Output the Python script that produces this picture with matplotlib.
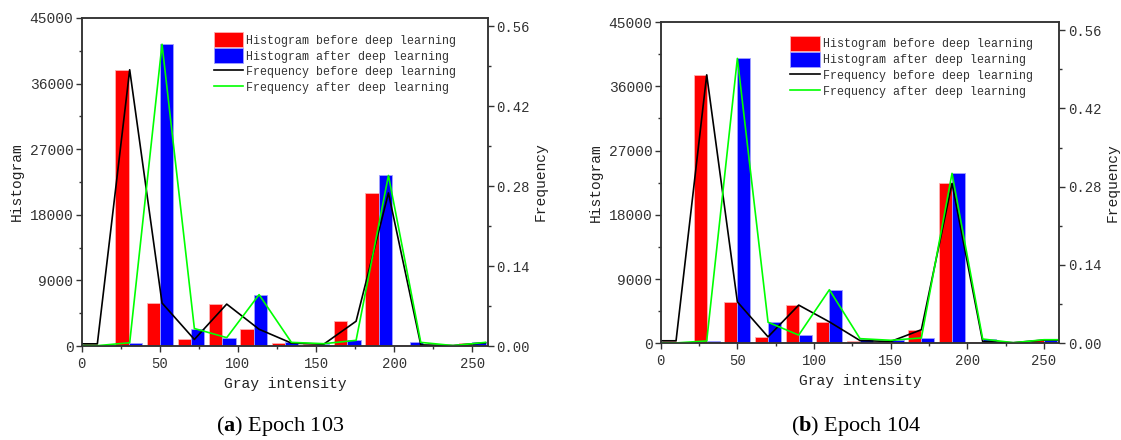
import numpy as np
import matplotlib
matplotlib.use('Agg')
import matplotlib.pyplot as plt
from matplotlib.ticker import MultipleLocator, FormatStrFormatter

plt.rcParams['font.family'] = ['Liberation Mono', 'DejaVu Sans']
plt.rcParams['mathtext.fontset'] = 'custom'
plt.rcParams['mathtext.bf'] = 'Liberation Serif:bold'
plt.rcParams['mathtext.rm'] = 'Liberation Serif'

# gray level bins (bar group centres)
bins = [10, 30, 50, 70, 90, 110, 130, 150, 170, 190, 210, 230, 250]
n_pixels = 78336

# epoch 103
hist_before_a = [300, 37900, 5900, 900, 5750, 2300, 400, 250, 3400, 21000, 150, 60, 450]
hist_after_a = [50, 450, 41400, 2400, 1150, 7050, 500, 320, 780, 23400, 500, 60, 500]
freq_x_a = [0, 10, 30.7, 51.4, 72.1, 92.8, 113.5, 134.2, 154.9, 175.6, 196.3, 217.0, 237.7, 258.4]

# epoch 104
hist_before_b = [350, 37600, 5800, 900, 5350, 3000, 380, 250, 1900, 22400, 250, 80, 450]
hist_after_b = [50, 330, 39900, 2950, 1150, 7500, 650, 420, 750, 23800, 600, 80, 500]
freq_x_b = [0, 10, 30, 50, 70, 90, 110, 130, 150, 170, 190, 210, 230, 250, 259]

bar_w = 8.5
spine_c = '#333333'


def draw_panel(rect, h_before, h_after, fx, caption, cap_xy):
    ax = fig.add_axes(rect)
    x = np.array(bins, dtype=float)
    ax.bar(x - bar_w / 2, h_before, width=bar_w, color='#ff0000',
           edgecolor='#ffb0b0', linewidth=0.6, label='Histogram before deep learning')
    ax.bar(x + bar_w / 2, h_after, width=bar_w, color='#0000ff',
           edgecolor='#a0a0ff', linewidth=0.6, label='Histogram after deep learning')
    ax.set_xlim(0, 260)
    ax.set_ylim(0, 45000)
    ax.xaxis.set_major_locator(MultipleLocator(50))
    ax.xaxis.set_minor_locator(MultipleLocator(25))
    ax.yaxis.set_major_locator(MultipleLocator(9000))
    ax.yaxis.set_minor_locator(MultipleLocator(4500))
    ax.set_xlabel('Gray intensity', fontsize=10.5, labelpad=4, color='#222222')
    ax.set_ylabel('Histogram', fontsize=10.5, labelpad=4, color='#222222')

    # frequency = count / number of pixels, padded at both ends
    n_extra = len(fx) - len(h_before)
    fb = [h_before[0]] + list(h_before) + [h_before[-1]] * (n_extra - 1)
    fa = [h_after[0]] + list(h_after) + [h_after[-1]] * (n_extra - 1)
    fb = np.array(fb) / n_pixels
    fa = np.array(fa) / n_pixels

    ax2 = ax.twinx()
    ax2.plot(fx, fb, color='black', lw=1.2, label='Frequency before deep learning')
    ax2.plot(fx, fa, color='#00ff00', lw=1.2, label='Frequency after deep learning')
    ax2.set_ylim(0, 45000 / n_pixels)
    ax2.yaxis.set_major_locator(MultipleLocator(0.14))
    ax2.yaxis.set_minor_locator(MultipleLocator(0.07))
    ax2.yaxis.set_major_formatter(FormatStrFormatter('%.2f'))
    ax2.set_ylabel('Frequency', fontsize=10.5, labelpad=3, color='#222222')

    for a in (ax, ax2):
        for s in a.spines.values():
            s.set_color(spine_c)
            s.set_linewidth(1.1)
        a.tick_params(which='major', direction='out', length=4, width=1,
                      color=spine_c, labelsize=10, labelcolor='#333333', pad=2)
        a.tick_params(which='minor', direction='out', length=2.5, width=1, color=spine_c)
    ax.tick_params(axis='x', pad=4)
    ax.tick_params(axis='y', labelsize=10.5)

    h1, l1 = ax.get_legend_handles_labels()
    h2, l2 = ax2.get_legend_handles_labels()
    ax2.legend(h1 + h2, l1 + l2, loc='upper left', bbox_to_anchor=(0.305, 0.982),
               frameon=False, fontsize=8.4, handlelength=2.5, handleheight=1.65,
               labelspacing=0.05, handletextpad=0.3, borderpad=0.2,
               labelcolor='#333333')

    fig.text(cap_xy[0], cap_xy[1], caption, ha='center', va='center',
             fontsize=16, family='Liberation Serif')


fig = plt.figure(figsize=(11.21, 4.40), dpi=100)
draw_panel([0.0729, 0.2136, 0.3624, 0.7455], hist_before_a, hist_after_a, freq_x_a,
           r'($\mathbf{a}$) Epoch 103', (0.250, 0.032))
draw_panel([0.5894, 0.2198, 0.3556, 0.7302], hist_before_b, hist_after_b, freq_x_b,
           r'($\mathbf{b}$) Epoch 104', (0.764, 0.032))

fig.savefig('out.png', dpi=100)
